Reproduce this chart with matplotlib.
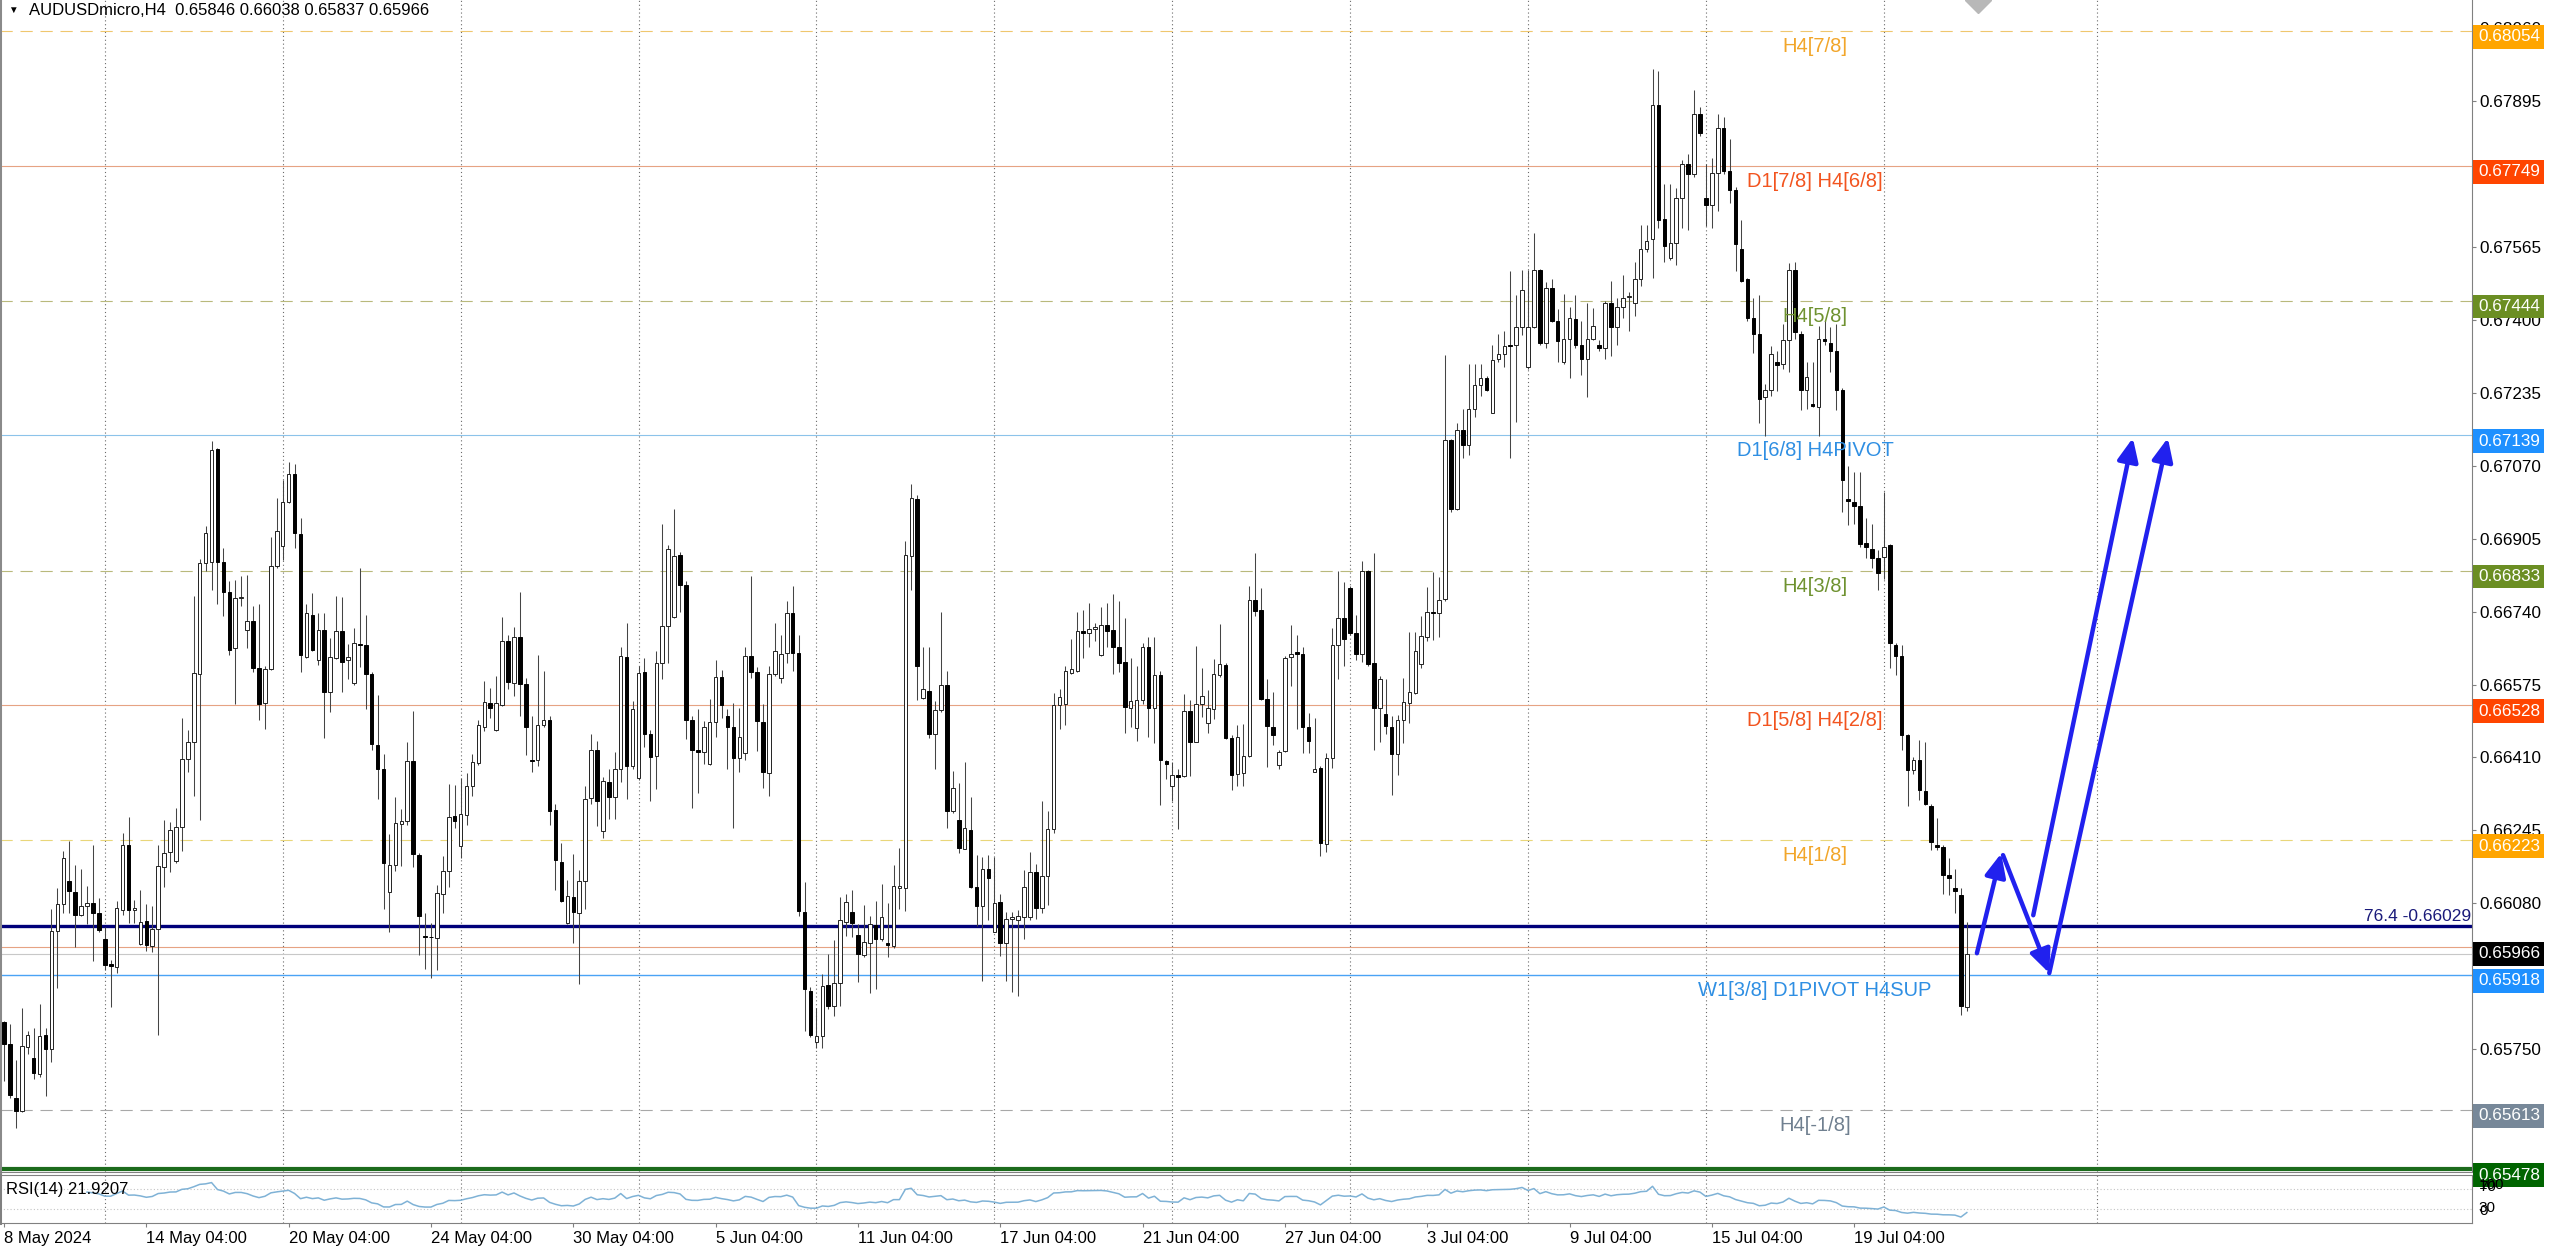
import numpy as np
import matplotlib
matplotlib.use("Agg")
import matplotlib.pyplot as plt
import matplotlib.transforms as mtransforms

plt.rcParams['font.family'] = ['Liberation Sans', 'DejaVu Sans']

# ---- data (prices in points, 1e-5) ----
title = 'AUDUSDmicro,H4  0.65846 0.66038 0.65837 0.65966'

opens_pts = [
    65811, 65762, 65640, 65611, 65754, 65730, 65693, 65781, 65751, 66018,
    66078, 66130, 66106, 66054, 66075, 66081, 66057, 65999, 65943, 65935,
    66065, 66212, 66064, 65988, 66039, 65983, 66022, 66162, 66195, 66175,
    66253, 66406, 66446, 66599, 66849, 66852, 67108, 66852, 66785, 66657,
    66770, 66699, 66718, 66612, 66533, 66610, 66843, 66889, 66989, 67052,
    66915, 66638, 66733, 66631, 66699, 66559, 66636, 66697, 66631, 66578,
    66667, 66664, 66599, 66439, 66383, 66106, 66167, 66259, 66267, 66401,
    66190, 66006, 66004, 66002, 66101, 66153, 66278, 66209, 66280, 66346,
    66397, 66480, 66534, 66473,
    66528, 66673, 66578, 66683, 66576, 66404, 66404, 66484, 66494, 66292,
    66173, 66035, 66095, 66057, 66130, 66319, 66428, 66244, 66355, 66321,
    66383, 66638, 66390, 66363, 66604, 66464, 66414, 66623, 66707, 66728,
    66869, 66801, 66495, 66428, 66423, 66395, 66490, 66593, 66504, 66479,
    66409, 66421, 66640, 66604, 66490, 66374, 66599, 66590, 66647, 66738,
    66647, 66060, 65882, 65766, 65780, 65895, 65847, 65900, 66038, 66061,
    66009, 65964, 65990, 66031, 66000, 65990, 65983, 66115, 66114, 66866,
    66995, 66544, 66561, 66463, 66517, 66573, 66288, 66269, 66204, 66247,
    66117, 66073, 66157, 66016,
    66082, 65990, 66045, 66042, 66049,
    66049, 66151, 66070, 66142, 66248, 66528, 66530, 66602, 66605, 66696,
    66691, 66700, 66642, 66710, 66698, 66661, 66626, 66522, 66476, 66539,
    66661, 66522, 66596, 66402, 66345, 66370, 66368, 66516, 66446, 66531,
    66488, 66520, 66596, 66620, 66454, 66372, 66374, 66414, 66767, 66744,
    66543, 66479, 66393, 66425, 66638, 66648, 66643, 66479, 66377, 66386,
    66215, 66409, 66665, 66725, 66793, 66691, 66645, 66832, 66624, 66522,
    66508, 66479, 66417, 66494, 66534, 66557, 66622, 66682, 66740, 66737,
    66768, 67128, 66973, 67150, 67116, 67199, 67252, 67268, 67190, 67311,
    67322, 67343, 67343, 67384, 67294, 67384, 67514, 67348, 67473, 67398,
    67304, 67358, 67402, 67343, 67311, 67358, 67343, 67336, 67438, 67384,
    67430, 67453, 67438, 67492, 67560, 67583, 67886, 67629, 67540, 67574,
    67675, 67752, 67730, 67867, 67675, 67661, 67733, 67834, 67737, 67694,
    67560, 67492, 67405, 67369, 67225, 67242, 67304, 67300, 67355, 67514,
    67369, 67242, 67210, 67203, 67358, 67348, 67329, 67242, 66994, 66987,
    66980, 66896, 66881, 66861, 66864, 66890, 66665, 66640, 66460, 66381,
    66405, 66333, 66301, 66212, 66208, 66143, 66114, 66099, 65846,
]
highs_pts = [
    65814, 65806, 65725, 65844, 65791, 65798, 65853, 65798, 66067, 66114,
    66199, 66220, 66167, 66157, 66120, 66212, 66093, 66027, 65951, 66086,
    66238, 66275, 66088, 66109, 66078, 66074, 66212, 66269, 66265, 66296,
    66499, 66473, 66775, 66859, 66933, 67126, 67110, 66883, 66810, 66812,
    66820, 66822, 66752, 66757, 66617, 66910, 66996, 67038, 67078, 67073,
    66952, 66757, 66783, 66738, 66736, 66680, 66775, 66773, 66667, 66704,
    66838, 66733, 66604, 66552, 66417, 66236, 66320, 66293, 66446, 66515,
    66193, 66057, 66035, 66122, 66188, 66351, 66348, 66364, 66375, 66417,
    66494, 66583, 66567, 66594,
    66728, 66688, 66706, 66785, 66590, 66504, 66642, 66606, 66504, 66304,
    66216, 66133, 66192, 66155, 66345, 66464, 66447, 66366, 66385, 66423,
    66661, 66714, 66538, 66616, 66636, 66473, 66652, 66938, 66890, 66973,
    66876, 66809, 66504, 66519, 66492, 66542, 66631, 66609, 66519, 66533,
    66523, 66659, 66821, 66614, 66530, 66616, 66714, 66688, 66764, 66799,
    66688, 66128, 65890, 65842, 65919, 65966, 65997, 66095, 66100, 66111,
    66033, 66076, 66052, 66085, 66123, 66081, 66166, 66206, 66899, 67028,
    67004, 66660, 66659, 66538, 66740, 66606, 66380, 66352, 66400, 66320,
    66190, 66185, 66190, 66185,
    66100, 66060, 66060, 66065, 66155,
    66197, 66169, 66312, 66288, 66555, 66565, 66617, 66679, 66740, 66744,
    66760, 66714, 66751, 66760, 66779, 66765, 66725, 66636, 66617, 66668,
    66682, 66682, 66605, 66405, 66400, 66384, 66553, 66539, 66663, 66613,
    66562, 66633, 66712, 66624, 66460, 66483, 66485, 66799, 66873, 66793,
    66587, 66559, 66428, 66640, 66710, 66687, 66661, 66511, 66500, 66391,
    66421, 66703, 66832, 66808, 66799, 66733, 66855, 66834, 66873, 66594,
    66587, 66504, 66506, 66590, 66694, 66694, 66731, 66796, 66830, 66818,
    67321, 67130, 67167, 67199, 67301, 67301, 67301, 67273, 67344, 67369,
    67376, 67511, 67456, 67514, 67514, 67597, 67516, 67485, 67492, 67424,
    67459, 67430, 67456, 67398, 67438, 67427, 67355, 67444, 67488, 67449,
    67502, 67463, 67531, 67615, 67615, 67968, 67964, 67708, 67708, 67698,
    67762, 67776, 67920, 67881, 67752, 67766, 67867, 67860, 67809, 67700,
    67626, 67495, 67449, 67456, 67254, 67340, 67329, 67391, 67528, 67531,
    67376, 67304, 67304, 67387, 67398, 67384, 67391, 67247, 67069, 67055,
    67055, 66951, 66939, 66879, 67011, 66893, 66669, 66665, 66463, 66410,
    66449, 66446, 66304, 66272, 66212, 66183, 66157, 66114, 66038,
]
lows_pts = [
    65679, 65640, 65572, 65607, 65738, 65683, 65686, 65643, 65722, 65888,
    66059, 66057, 65981, 66051, 66033, 65949, 66014, 65930, 65846, 65922,
    66053, 66035, 66035, 65986, 65972, 65969, 65781, 66116, 66151, 66172,
    66199, 66376, 66322, 66269, 66831, 66789, 66757, 66731, 66641, 66531,
    66752, 66657, 66604, 66494, 66475, 66607, 66838, 66857, 66986, 66883,
    66604, 66636, 66652, 66620, 66454, 66512, 66633, 66559, 66588, 66575,
    66615, 66520, 66427, 66317, 66067, 66014, 66153, 66164, 66257, 66162,
    65964, 65932, 65911, 65930, 66059, 66118, 66251, 66183, 66257, 66322,
    66394, 66469, 66499, 66469,
    66526, 66566, 66549, 66504, 66416, 66376, 66390, 66480, 66257, 66109,
    66082, 66033, 65990, 65898, 66066, 66304, 66254, 66228, 66271, 66271,
    66355, 66317, 66383, 66359, 66433, 66311, 66338, 66587, 66623, 66726,
    66740, 66452, 66295, 66330, 66395, 66393, 66457, 66500, 66385, 66250,
    66378, 66404, 66590, 66425, 66342, 66323, 66595, 66578, 66623, 66606,
    66052, 65790, 65778, 65752, 65752, 65840, 65825, 65847, 66006, 66004,
    65901, 65959, 65876, 65885, 65995, 65959, 65978, 66066, 66063, 66790,
    66540, 66542, 66454, 66383, 66514, 66250, 66285, 66193, 66202, 66114,
    66028, 65904, 66042, 66014,
    65960, 65905, 65880, 65870, 66000,
    66042, 66045, 66058, 66077, 66239, 66474, 66483, 66599, 66603, 66636,
    66659, 66673, 66640, 66659, 66599, 66603, 66465, 66479, 66448, 66530,
    66456, 66442, 66303, 66361, 66312, 66248, 66365, 66368, 66445, 66502,
    66465, 66497, 66592, 66451, 66337, 66345, 66345, 66411, 66731, 66539,
    66389, 66439, 66384, 66423, 66571, 66474, 66419, 66419, 66377, 66186,
    66195, 66386, 66587, 66617, 66687, 66631, 66626, 66617, 66426, 66446,
    66463, 66326, 66371, 66442, 66488, 66553, 66613, 66673, 66675, 66682,
    66765, 66965, 66971, 67088, 67095, 67181, 67227, 67239, 67190, 67304,
    67294, 67088, 67170, 67366, 67290, 67381, 67343, 67337, 67395, 67304,
    67300, 67268, 67337, 67275, 67225, 67355, 67329, 67311, 67319, 67343,
    67405, 67376, 67410, 67477, 67554, 67496, 67607, 67531, 67535, 67525,
    67607, 67603, 67723, 67817, 67612, 67607, 67646, 67730, 67665, 67511,
    67485, 67398, 67326, 67167, 67138, 67228, 67239, 67290, 67283, 67358,
    67196, 67199, 67203, 67138, 67343, 67283, 67196, 66965, 66936, 66939,
    66886, 66861, 66838, 66789, 66814, 66612, 66597, 66428, 66301, 66373,
    66313, 66302, 66200, 66200, 66102, 66099, 66059, 65828, 65837,
]
closes_pts = [
    65762, 65646, 65611, 65758, 65783, 65696, 65780, 65751, 66018, 66078,
    66183, 66107, 66054, 66074, 66080, 66057, 66020, 65941, 65939, 66069,
    66212, 66064, 66069, 66038, 65986, 66022, 66165, 66193, 66246, 66253,
    66406, 66446, 66601, 66849, 66917, 67105, 66852, 66785, 66654, 66771,
    66772, 66718, 66612, 66531, 66610, 66843, 66922, 66989, 67052, 66917,
    66641, 66736, 66654, 66699, 66559, 66638, 66697, 66627, 66638, 66670,
    66664, 66599, 66441, 66383, 66172, 66167, 66262, 66267, 66401, 66191,
    66051, 66004, 66003, 66104, 66153, 66276, 66267, 66281, 66346, 66399,
    66483, 66536, 66522, 66533,
    66673, 66580, 66683, 66576, 66479, 66402, 66484, 66494, 66290, 66178,
    66085, 66097, 66060, 66131, 66317, 66428, 66312, 66357, 66321, 66383,
    66640, 66390, 66519, 66602, 66464, 66412, 66623, 66707, 66882, 66866,
    66801, 66495, 66428, 66423, 66480, 66490, 66593, 66528, 66479, 66409,
    66457, 66640, 66604, 66492, 66376, 66599, 66652, 66645, 66736, 66647,
    66063, 65885, 65783, 65780, 65892, 65847, 65900, 66042, 66082, 66035,
    65966, 65993, 66033, 66000, 66049, 65985, 66119, 66119, 66869, 66997,
    66616, 66564, 66463, 66517, 66573, 66288, 66340, 66206, 66250, 66117,
    66073, 66157, 66138, 66080,
    65990, 66045, 66048, 66051, 66116,
    66151, 66070, 66142, 66248, 66528, 66546, 66605, 66610, 66696, 66691,
    66700, 66705, 66710, 66696, 66661, 66624, 66525, 66537, 66539, 66661,
    66522, 66596, 66405, 66396, 66370, 66366, 66516, 66445, 66531, 66548,
    66522, 66599, 66622, 66454, 66371, 66457, 66414, 66767, 66742, 66543,
    66481, 66460, 66423, 66636, 66645, 66643, 66479, 66448, 66385, 66217,
    66409, 66665, 66725, 66677, 66691, 66645, 66832, 66622, 66522, 66587,
    66481, 66417, 66494, 66536, 66559, 66651, 66684, 66740, 66737, 66767,
    67128, 66973, 67150, 67116, 67199, 67252, 67268, 67241, 67310, 67322,
    67340, 67341, 67384, 67467, 67384, 67514, 67348, 67473, 67398, 67352,
    67358, 67405, 67343, 67311, 67358, 67387, 67336, 67438, 67384, 67430,
    67449, 67455, 67492, 67560, 67578, 67886, 67626, 67568, 67574, 67675,
    67752, 67730, 67867, 67824, 67661, 67733, 67834, 67737, 67694, 67571,
    67488, 67405, 67369, 67222, 67242, 67323, 67297, 67355, 67514, 67372,
    67242, 67271, 67206, 67358, 67352, 67329, 67242, 67037, 66990, 66980,
    66893, 66886, 66861, 66828, 66886, 66669, 66640, 66460, 66381, 66405,
    66337, 66304, 66218, 66208, 66143, 66138, 66107, 65847, 65966,
]

date_bars = [0, 24, 48, 72, 96, 120, 144, 168, 192, 216, 240, 264, 288, 312]
date_labels = ['8 May 2024', '14 May 04:00', '20 May 04:00', '24 May 04:00',
               '30 May 04:00', '5 Jun 04:00', '11 Jun 04:00', '17 Jun 04:00',
               '21 Jun 04:00', '27 Jun 04:00', '3 Jul 04:00', '9 Jul 04:00',
               '15 Jul 04:00', '19 Jul 04:00']
grid_bars = [17, 47, 77, 107, 137, 167, 197, 227, 257, 287, 317, 353]

price_ticks = [0.68060, 0.67895, 0.67730, 0.67565, 0.67400, 0.67235, 0.67070,
               0.66905, 0.66740, 0.66575, 0.66410, 0.66245, 0.66080, 0.65915,
               0.65750, 0.65585]

levels = [0.68054, 0.67749, 0.67444, 0.67139, 0.66833, 0.66528, 0.66223,
          0.65980, 0.65918, 0.65613, 0.65478]
level_names = ['H4[7/8]', 'D1[7/8] H4[6/8]', 'H4[5/8]', 'D1[6/8] H4PIVOT',
               'H4[3/8]', 'D1[5/8] H4[2/8]', 'H4[1/8]', '',
               'W1[3/8] D1PIVOT H4SUP', 'H4[-1/8]', '']
fib_price = 0.66029
fib_text = '76.4 -0.66029'
rsi_text = 'RSI(14) 21.9207'

# hand drawn forecast arrows: (bar, price) start -> end
arrows = [((332.7, 0.65967), (336.8, 0.66193)),
          ((337.1, 0.66189), (344.9, 0.65922)),
          ((344.9, 0.65922), (364.9, 0.67133)),
          ((342.2, 0.66053), (359.0, 0.67133))]

o = np.array(opens_pts) / 1e5
h = np.array(highs_pts) / 1e5
l = np.array(lows_pts) / 1e5
c = np.array(closes_pts) / 1e5
x = np.arange(len(c))
bid = c[-1]

# ---- styles ----
line_col = ['#efc76e', '#e6a383', '#b9b97c', '#8cc3ea', '#b9b97c', '#e6a383',
            '#e9d67a', '#e6a383', '#4aa3f5', '#a8a8a8', '#1c6b1c']
line_ls = ['dash', '-', 'dash', '-', 'dash', '-', 'dash', '-', '-', 'dash', '-']
line_lw = [0.8, 0.8, 0.8, 0.8, 0.8, 0.8, 0.8, 0.8, 1.0, 0.8, 3.0]
text_col = ['#f2a62a', '#f2541f', '#6f9230', '#2f8fe3', '#6f9230', '#f2541f',
            '#f2a62a', '#f2541f', '#2f8fe3', '#708090', '#1c6b1c']
box_col = ['#ffa500', '#ff4500', '#6b8e23', '#1e90ff', '#6b8e23', '#ff4500',
           '#ffa500', '#ff4500', '#1e90ff', '#778899', '#006400']

W, H = 2560, 1251
fig = plt.figure(figsize=(W / 100, H / 100), dpi=100)


def px_axes(x0, y0, x1, y1):
    return fig.add_axes([x0 / W, 1 - y1 / H, (x1 - x0) / W, (y1 - y0) / H])


ax = px_axes(0, 0, 2472, 1172)
rax = px_axes(0, 1175, 2472, 1223)
step = 5.93
xlim = (-4 / step, -4 / step + 2472 / step)
ax.set_xlim(*xlim)
rax.set_xlim(*xlim)
ax.set_ylim(0.65472, 0.68124)
rax.set_ylim(0, 100)

# grid
for b in grid_bars:
    ax.axvline(b, color='#6a6a6a', lw=0.8, ls=(0, (1, 2.5)), zorder=0.5)
    rax.axvline(b, color='#6a6a6a', lw=0.8, ls=(0, (1, 2.5)), zorder=0.5)

# level lines
for p, lc, ls, lw in zip(levels, line_col, line_ls, line_lw):
    style = (0, (11, 7)) if ls == 'dash' else '-'
    ax.axhline(p, color=lc, lw=lw, ls=style, zorder=1)
ax.axhline(bid, color='#c8c8c8', lw=0.8, zorder=1)
ax.axhline(fib_price, color='#00007a', lw=2.4, zorder=1.5)

# candles
up = c >= o
ax.vlines(x, l, h, color='#454545', lw=0.75, zorder=2)
body_lo = np.minimum(o, c)
body_h = np.maximum(np.abs(c - o), 0.000015)
ax.bar(x[up], body_h[up], bottom=body_lo[up], width=0.6, color='white',
       edgecolor='#222222', linewidth=0.7, zorder=3)
ax.bar(x[~up], body_h[~up], bottom=body_lo[~up], width=0.6, color='black',
       edgecolor='black', linewidth=0.7, zorder=3)

# level texts on chart
tdown = mtransforms.offset_copy(ax.transData, fig=fig, y=-6, units='dots')
for p, name, tc in zip(levels, level_names, text_col):
    if name:
        ax.text(305.4, p, name, color=tc, fontsize=14.5, ha='center', va='top',
                transform=tdown, zorder=4)

tright = mtransforms.blended_transform_factory(ax.transAxes, ax.transData)
ax.text(0.9995, fib_price, fib_text, color='#1a1a7a', fontsize=12.5, ha='right',
        va='bottom', transform=mtransforms.offset_copy(tright, fig=fig, y=2, units='dots'),
        zorder=4)

# arrows
for start, end in arrows:
    ax.annotate('', xy=end, xytext=start,
                arrowprops=dict(arrowstyle='-|>,head_length=1.0,head_width=0.45',
                                color='#2121ee', lw=3.2, mutation_scale=14,
                                shrinkA=0, shrinkB=0), zorder=5)

# chart shift marker
ax.plot([332.9], [0.68124], marker='D', ms=13, color='#b8b8b8', zorder=4)

# price axis
ax.yaxis.tick_right()
ax.set_yticks(price_ticks)
ax.set_yticklabels(['%.5f' % t for t in price_ticks])
ax.tick_params(axis='y', direction='out', length=3, width=0.8, color='#808080',
               pad=2.5, labelsize=12.3)
ax.tick_params(axis='x', bottom=False, labelbottom=False)
ax.spines['top'].set_visible(False)
ax.spines['left'].set_color('#8a8a8a')
ax.spines['left'].set_linewidth(2.2)
ax.spines['right'].set_color('#808080')
ax.spines['bottom'].set_color('#808080')

tbox = mtransforms.offset_copy(tright, fig=fig, y=-6, units='dots')
for p, bc in zip(levels, box_col):
    ax.text(1.0024, p, '%.5f' % p, color='white', fontsize=12.3, ha='left', va='center',
            transform=tbox, clip_on=False, zorder=6,
            bbox=dict(boxstyle='square,pad=0.26', fc=bc, ec='none'))
ax.text(1.0024, bid, '%.5f' % bid, color='white', fontsize=12.3, ha='left', va='center',
        transform=tright, clip_on=False, zorder=7,
        bbox=dict(boxstyle='square,pad=0.26', fc='black', ec='none'))

# title
fig.text(8 / W, 1 - 5 / H, '\u25bc', fontsize=7, va='top', ha='left')
fig.text(29 / W, 1 - 3 / H, title, fontsize=12, va='top', ha='left')

# RSI panel
delta = np.diff(c)
gain = np.clip(delta, 0, None)
loss = np.clip(-delta, 0, None)
n = 14
rsi = np.full(len(c), np.nan)
ag, al = gain[:n].mean(), loss[:n].mean()
rsi[n] = 100 - 100 / (1 + ag / al)
for i in range(n, len(delta)):
    ag = (ag * (n - 1) + gain[i]) / n
    al = (al * (n - 1) + loss[i]) / n
    rsi[i + 1] = 100 - 100 / (1 + ag / al)
rax.plot(x, rsi, color='#7fb2d6', lw=1.1, zorder=3)
rax.axhline(70, color='#c4c4c4', lw=0.8, ls=(0, (1, 2)), zorder=1)
rax.axhline(30, color='#c4c4c4', lw=0.8, ls=(0, (1, 2)), zorder=1)
rax.text(6 / 2472, 0.69, rsi_text, transform=rax.transAxes, fontsize=12,
         va='center', ha='left')
rright = mtransforms.blended_transform_factory(rax.transAxes, rax.transData)
for val, lab in [(80, '100'), (74, '70'), (31, '30'), (26, '0')]:
    rax.text(1.0028, val, lab, transform=rright, fontsize=11, va='center',
             ha='left', clip_on=False)
rax.set_yticks([])
rax.set_xticks(date_bars)
rax.set_xticklabels(date_labels, ha='left')
rax.tick_params(axis='x', length=3, width=0.8, color='#808080', pad=3, labelsize=12)
for s in rax.spines.values():
    s.set_color('#808080')
rax.spines['left'].set_linewidth(2.2)

fig.savefig('out.png', dpi=100)
